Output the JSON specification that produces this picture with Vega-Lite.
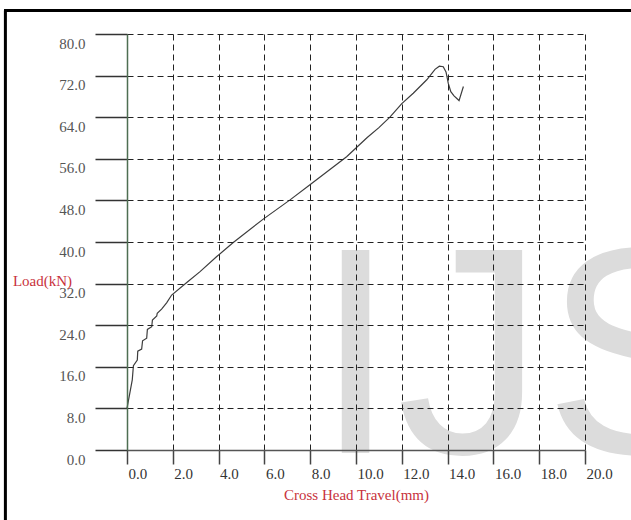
{
  "$schema": "https://vega.github.io/schema/vega-lite/v6.json",
  "width": 458,
  "height": 416,
  "autosize": {"type": "none"},
  "padding": {"left": 127, "top": 34, "right": 46, "bottom": 70},
  "background": "white",
  "config": {"view": {"stroke": null}},
  "layer": [
    {
      "data": {"values": [{"mark": "IJSER"}]},
      "mark": {"type": "text", "font": "Liberation Sans", "fontSize": 295, "color": "#dcdcdc", "align": "left", "baseline": "alphabetic"},
      "encoding": {
        "text": {"field": "mark", "type": "nominal"},
        "x": {"datum": 8.19, "type": "quantitative"},
        "y": {"datum": -0.58, "type": "quantitative"}
      }
    },
    {
      "data": {"values": [{}]},
      "mark": {"type": "rule", "color": "black", "strokeWidth": 3},
      "encoding": {
        "x": {"datum": -5.31, "type": "quantitative"},
        "y": {"datum": 84.5, "type": "quantitative"},
        "y2": {"datum": -16}
      }
    },
    {
      "data": {"values": [{}]},
      "mark": {"type": "rule", "color": "black", "strokeWidth": 3},
      "encoding": {
        "y": {"datum": 84.5, "type": "quantitative"},
        "x": {"datum": -5.37, "type": "quantitative"},
        "x2": {"datum": 23}
      }
    },
    {
      "data": {"values": [
        {"travel": 0.0, "load": 8.0},
        {"travel": 0.23, "load": 13.5},
        {"travel": 0.28, "load": 16.2},
        {"travel": 0.45, "load": 17.3},
        {"travel": 0.47, "load": 19.0},
        {"travel": 0.64, "load": 19.4},
        {"travel": 0.68, "load": 21.0},
        {"travel": 0.86, "load": 21.5},
        {"travel": 0.89, "load": 23.2},
        {"travel": 1.08, "load": 23.7},
        {"travel": 1.11, "load": 25.0},
        {"travel": 1.30, "load": 25.8},
        {"travel": 1.32, "load": 26.3},
        {"travel": 1.51, "load": 27.1},
        {"travel": 1.73, "load": 28.3},
        {"travel": 1.95, "load": 29.8},
        {"travel": 2.61, "load": 32.2},
        {"travel": 3.19, "load": 34.3},
        {"travel": 3.92, "load": 37.2},
        {"travel": 4.64, "load": 39.9},
        {"travel": 5.95, "load": 44.4},
        {"travel": 7.12, "load": 48.1},
        {"travel": 7.99, "load": 51.0},
        {"travel": 9.59, "load": 56.4},
        {"travel": 10.49, "load": 60.1},
        {"travel": 11.0, "load": 62.0},
        {"travel": 11.48, "load": 64.0},
        {"travel": 12.0, "load": 66.6},
        {"travel": 12.5, "load": 68.6},
        {"travel": 13.09, "load": 71.2},
        {"travel": 13.45, "load": 73.2},
        {"travel": 13.64, "load": 73.8},
        {"travel": 13.81, "load": 73.7},
        {"travel": 13.93, "load": 72.7},
        {"travel": 14.03, "load": 70.5},
        {"travel": 14.14, "load": 68.9},
        {"travel": 14.28, "load": 68.1},
        {"travel": 14.5, "load": 67.2},
        {"travel": 14.69, "load": 69.9}
      ]},
      "mark": {"type": "line", "color": "#3d3d3d", "strokeWidth": 1.2},
      "encoding": {
        "x": {
          "field": "travel", "type": "quantitative",
          "scale": {"domain": [0, 20], "nice": false, "zero": false},
          "axis": {
            "values": [0, 2, 4, 6, 8, 10, 12, 14, 16, 18, 20],
            "format": ".1f",
            "labelFont": "Liberation Serif", "labelFontSize": 15, "labelColor": "#333",
            "labelAlign": "left", "labelBaseline": "middle", "labelFlush": false, "labelOverlap": false,
            "labelPadding": 9, "labelOffset": 1,
            "tickSize": 14, "tickColor": "#444", "tickWidth": 1.5,
            "domainColor": "#555", "domainWidth": 1.5,
            "grid": true, "gridDash": [6, 4], "gridColor": "#222", "gridWidth": 1,
            "title": "Cross Head Travel(mm)",
            "titleFont": "Liberation Serif", "titleFontSize": 15, "titleFontWeight": "normal",
            "titleColor": "#c8323c", "titleY": 44, "titleBaseline": "middle",
            "zindex": 1
          }
        },
        "y": {
          "field": "load", "type": "quantitative",
          "scale": {"domain": [0, 80], "nice": false},
          "axis": {
            "values": [0, 8, 16, 24, 32, 40, 48, 56, 64, 72, 80],
            "format": ".1f",
            "labelFont": "Liberation Serif", "labelFontSize": 15, "labelColor": "#555",
            "labelBaseline": "middle", "labelFlush": false, "labelOverlap": false,
            "labelPadding": 10, "labelOffset": 9,
            "tickSize": 32, "tickColor": "#333", "tickWidth": 1.5,
            "domainColor": "#4e6e52", "domainWidth": 1.5,
            "grid": true, "gridDash": [6, 4], "gridColor": "#222", "gridWidth": 1,
            "title": "Load(kN)",
            "titleFont": "Liberation Serif", "titleFontSize": 15, "titleFontWeight": "normal",
            "titleColor": "#c8323c", "titleAngle": 0, "titleX": -85, "titleY": 246,
            "titleAlign": "center", "titleBaseline": "middle",
            "zindex": 1
          }
        }
      }
    }
  ]
}
